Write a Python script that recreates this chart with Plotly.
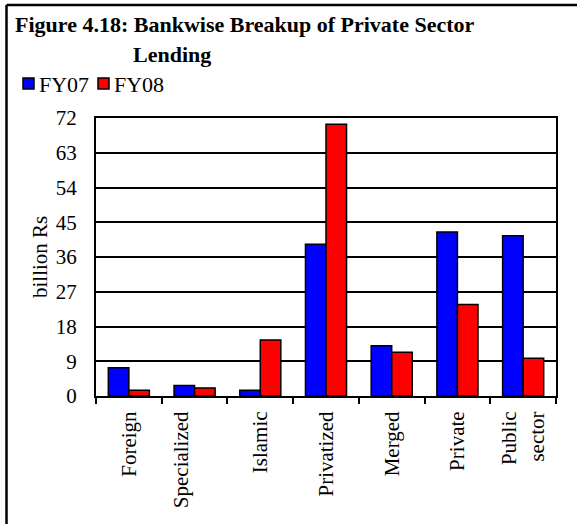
import plotly.graph_objects as go

# Bank groups and lending volumes (billion Rs)
categories = ["Foreign", "Specialized<br> ", "Islamic", "Privatized", "Merged", "Private", "Public<br>sector"]
series_names = ["FY07", "FY08"]
fy07 = [7.3, 2.7, 1.5, 39.3, 13.0, 42.5, 41.5]
fy08 = [1.5, 2.1, 14.5, 70.4, 11.3, 23.7, 9.8]
y_ticks = [0, 9, 18, 27, 36, 45, 54, 63, 72]
colors = ["#0000FF", "#FF0000"]

W, H = 577, 524
L, R, T, B = 96, 21, 118, 128
PW, PH = W - L - R, H - T - B


def px_x(p):
    return (p - L) / PW


def px_y(p):
    return (H - B - p) / PH


SERIF = "Liberation Serif, Times New Roman, serif"

fig = go.Figure()
for name, vals, col in zip(series_names, [fy07, fy08], colors):
    fig.add_trace(go.Bar(name=name, x=categories, y=vals, showlegend=False,
                         marker=dict(color=col, line=dict(color="black", width=1.5))))

fig.update_layout(
    width=W, height=H,
    margin=dict(l=L, r=R, t=T, b=B),
    paper_bgcolor="white", plot_bgcolor="white",
    barmode="group", bargap=0.375, bargroupgap=0,
    font=dict(family=SERIF, size=20, color="black"),
)

fig.update_xaxes(
    type="category", tickangle=-90, tickson="boundaries", ticks="outside",
    ticklen=6, tickwidth=2, tickcolor="black", ticklabelstandoff=5,
    showline=True, linecolor="black", linewidth=2, mirror=True,
    showgrid=False, tickfont=dict(family=SERIF, size=21, color="black"),
)
fig.update_yaxes(
    range=[0, 72], tickvals=y_ticks, ticks="", ticklabelstandoff=13,
    showline=True, linecolor="black", linewidth=2, mirror=True,
    showgrid=True, gridcolor="black", gridwidth=1.5, zeroline=False,
    tickfont=dict(family=SERIF, size=21, color="black"),
)

# Y axis title
fig.add_annotation(text="billion Rs", xref="paper", yref="paper",
                   x=px_x(40), y=0.5, textangle=-90, showarrow=False,
                   xanchor="center", yanchor="middle",
                   font=dict(family=SERIF, size=21, color="black"))

# Chart heading on two lines
fig.add_annotation(text="<b>Figure 4.18: Bankwise Breakup of Private Sector</b>",
                   xref="paper", yref="paper", x=px_x(13), y=px_y(24),
                   xanchor="left", yanchor="middle", showarrow=False,
                   font=dict(family=SERIF, size=22, color="black"))
fig.add_annotation(text="<b>Lending</b>",
                   xref="paper", yref="paper", x=px_x(131), y=px_y(54),
                   xanchor="left", yanchor="middle", showarrow=False,
                   font=dict(family=SERIF, size=22, color="black"))

# Compact legend: swatch followed closely by its label
legend_x = [23, 98]
for name, col, lx in zip(series_names, colors, legend_x):
    fig.add_shape(type="rect", xref="paper", yref="paper",
                  x0=px_x(lx), x1=px_x(lx + 11), y0=px_y(78), y1=px_y(89),
                  fillcolor=col, line=dict(color="black", width=1.5))
    fig.add_annotation(text=name, xref="paper", yref="paper",
                       x=px_x(lx + 14), y=px_y(84), xanchor="left", yanchor="middle",
                       showarrow=False, font=dict(family=SERIF, size=22, color="black"))

# Frame lines along the left and top edges of the figure
fig.add_shape(type="line", xref="paper", yref="paper",
              x0=px_x(6.5), x1=px_x(W + 5), y0=px_y(5), y1=px_y(5),
              line=dict(color="black", width=2.5))
fig.add_shape(type="line", xref="paper", yref="paper",
              x0=px_x(6.5), x1=px_x(6.5), y0=px_y(5), y1=px_y(H + 5),
              line=dict(color="black", width=2.5))

fig.write_html("out.html")
